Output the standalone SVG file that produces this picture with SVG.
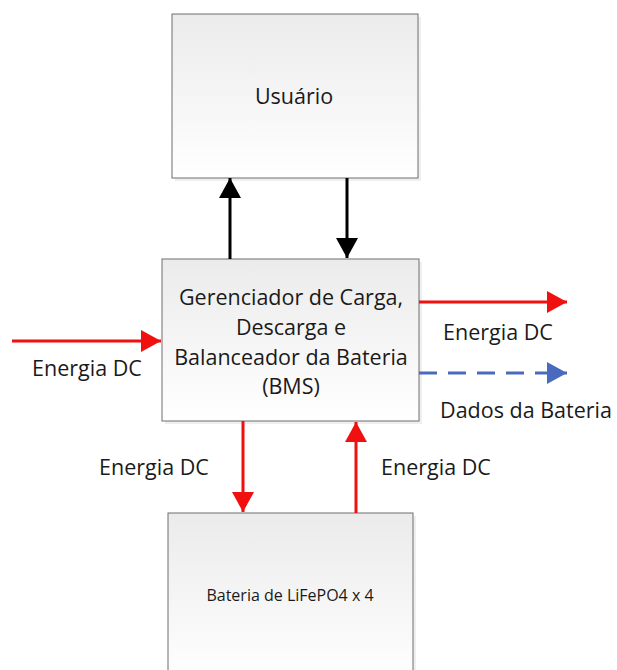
<svg xmlns="http://www.w3.org/2000/svg" width="617" height="670" viewBox="0 0 617 670">
<style>
.box{stroke:#6e6e6e;stroke-width:1;}
.t{font-family:"Open Sans","Liberation Sans",sans-serif;fill:#1a1a1a;text-anchor:middle;font-size:21.5px;}
.blk{stroke:#000;stroke-width:3;fill:none;}
.red{stroke:#f01010;stroke-width:3;fill:none;}
.blu{stroke:#4a6bbd;stroke-width:3;fill:none;stroke-dasharray:18,11;}
</style>
<defs>
<linearGradient id="g" x1="0" y1="0" x2="0" y2="1">
<stop offset="0" stop-color="#ebebeb"/>
<stop offset="1" stop-color="#ffffff"/>
</linearGradient>
<marker id="ab" markerUnits="userSpaceOnUse" markerWidth="22" markerHeight="22" refX="20" refY="11" orient="auto"><path d="M0,0 L20,11 L0,22 z" fill="#000"/></marker>
<marker id="ar" markerUnits="userSpaceOnUse" markerWidth="22" markerHeight="22" refX="20" refY="11" orient="auto"><path d="M0,0 L20,11 L0,22 z" fill="#f01010"/></marker>
<marker id="au" markerUnits="userSpaceOnUse" markerWidth="22" markerHeight="22" refX="20" refY="11" orient="auto"><path d="M0,0 L20,11 L0,22 z" fill="#4a6bbd"/></marker>
</defs>
<g id="usuario">
<rect x="175" y="17" width="246" height="164" fill="#e4e4e4" opacity="0.6"/>
<rect class="box" x="172" y="14" width="246" height="164" fill="url(#g)"/>
<text class="t" x="294" y="104">Usuário</text>
</g>
<g id="bms">
<rect x="165" y="262" width="257" height="162" fill="#e4e4e4" opacity="0.6"/>
<rect class="box" x="162" y="259" width="257" height="162" fill="url(#g)"/>
<text class="t"><tspan x="291" y="305">Gerenciador de Carga,</tspan><tspan x="291" y="335">Descarga e</tspan><tspan x="291" y="365">Balanceador da Bateria</tspan><tspan x="291" y="394">(BMS)</tspan></text>
</g>
<g id="bateria">
<rect x="171" y="516" width="245" height="160" fill="#e4e4e4" opacity="0.6"/>
<rect class="box" x="168" y="513" width="245" height="170" fill="url(#g)"/>
<text class="t" x="290" y="601" style="font-size:16px">Bateria de LiFePO4 x 4</text>
</g>
<g id="connectors">
<line class="blk" x1="230" y1="259" x2="230" y2="178" marker-end="url(#ab)"/>
<line class="blk" x1="347" y1="178" x2="347" y2="258" marker-end="url(#ab)"/>
<line class="red" x1="12" y1="341" x2="161" y2="341" marker-end="url(#ar)"/>
<line class="red" x1="419" y1="302" x2="567" y2="302" marker-end="url(#ar)"/>
<line class="blu" x1="419" y1="373" x2="567" y2="373" marker-end="url(#au)"/>
<line class="red" x1="243" y1="421" x2="243" y2="512" marker-end="url(#ar)"/>
<line class="red" x1="356" y1="513" x2="356" y2="422" marker-end="url(#ar)"/>
</g>
<g id="labels">
<text class="t" x="87" y="376">Energia DC</text>
<text class="t" x="498" y="340">Energia DC</text>
<text class="t" x="526" y="418">Dados da Bateria</text>
<text class="t" x="154" y="475">Energia DC</text>
<text class="t" x="436" y="475">Energia DC</text>
</g>
</svg>
